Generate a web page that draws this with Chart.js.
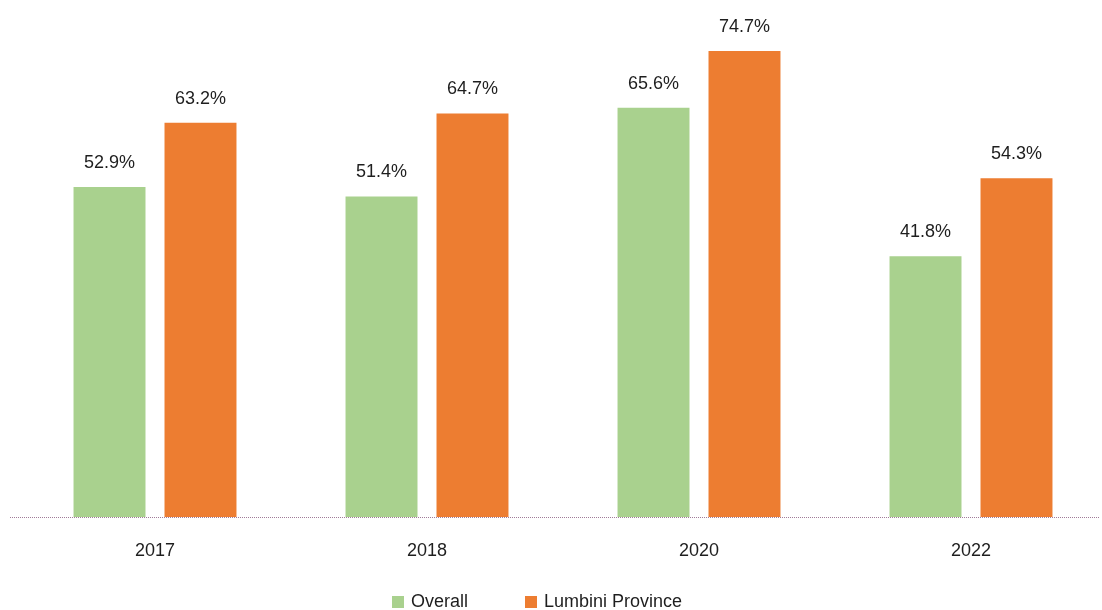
<!DOCTYPE html>
<html>
<head>
<meta charset="utf-8">
<script src="https://cdn.jsdelivr.net/npm/chart.js@4/dist/chart.umd.min.js"></script>
<style>
  html, body { margin: 0; padding: 0; background: #fff; overflow: hidden; }
  #wrap { width: 1107px; height: 610px; position: relative; }
</style>
</head>
<body>
<div id="wrap"><canvas id="c"></canvas></div>
<script>
const years = ['2017', '2018', '2020', '2022'];
const overall = [52.9, 51.4, 65.6, 41.8];
const lumbini = [63.2, 64.7, 74.7, 54.3];
const seriesNames = ['Overall', 'Lumbini Province'];
const seriesColors = ['#a9d18e', '#ed7d31'];

const FONT = '"Liberation Sans", Arial, sans-serif';
const TEXT = '#1e1e1e';

// Percent labels above each bar
const valueLabels = {
  id: 'valueLabels',
  afterDatasetsDraw(chart) {
    const ctx = chart.ctx;
    ctx.save();
    ctx.font = '18px ' + FONT;
    ctx.fillStyle = TEXT;
    ctx.textAlign = 'center';
    ctx.textBaseline = 'middle';
    chart.data.datasets.forEach((ds, i) => {
      chart.getDatasetMeta(i).data.forEach((bar, j) => {
        ctx.fillText(ds.data[j].toFixed(1) + '%', bar.x, bar.y - 24);
      });
    });
    ctx.restore();
  }
};

// Dotted baseline and the legend row under the axis
const baseAndLegend = {
  id: 'baseAndLegend',
  afterDraw(chart) {
    const ctx = chart.ctx;
    const y0 = Math.round(chart.scales.y.getPixelForValue(0)) + 0.5;
    ctx.save();
    ctx.strokeStyle = '#a07c98';
    ctx.lineWidth = 1;
    ctx.setLineDash([1, 1]);
    ctx.beginPath();
    ctx.moveTo(10, y0);
    ctx.lineTo(1100, y0);
    ctx.stroke();
    ctx.setLineDash([]);

    ctx.font = '18px ' + FONT;
    ctx.textBaseline = 'middle';
    ctx.textAlign = 'left';
    const ly = 602;
    const starts = [392, 525];
    seriesNames.forEach((name, i) => {
      ctx.fillStyle = seriesColors[i];
      ctx.fillRect(starts[i], ly - 6, 12, 12);
      ctx.fillStyle = TEXT;
      ctx.fillText(name, starts[i] + 19, ly);
    });
    ctx.restore();
  }
};

new Chart(document.getElementById('c'), {
  type: 'bar',
  data: {
    labels: years,
    datasets: [
      { label: seriesNames[0], data: overall, backgroundColor: seriesColors[0] },
      { label: seriesNames[1], data: lumbini, backgroundColor: seriesColors[1] }
    ]
  },
  options: {
    responsive: true,
    maintainAspectRatio: false,
    animation: false,
    layout: { padding: { left: 19, right: 0, top: 18, bottom: 0 } },
    datasets: {
      bar: { categoryPercentage: 0.669, barPercentage: 0.791 }
    },
    plugins: {
      legend: { display: false },
      tooltip: { enabled: false }
    },
    scales: {
      x: {
        grid: { display: false, drawTicks: false },
        border: { display: false },
        ticks: {
          color: TEXT,
          font: { family: FONT, size: 18 },
          padding: 23
        },
        afterFit(scale) { scale.height = 93; }
      },
      y: {
        display: false,
        min: 0,
        max: 80
      }
    }
  },
  plugins: [valueLabels, baseAndLegend]
});
</script>
</body>
</html>
